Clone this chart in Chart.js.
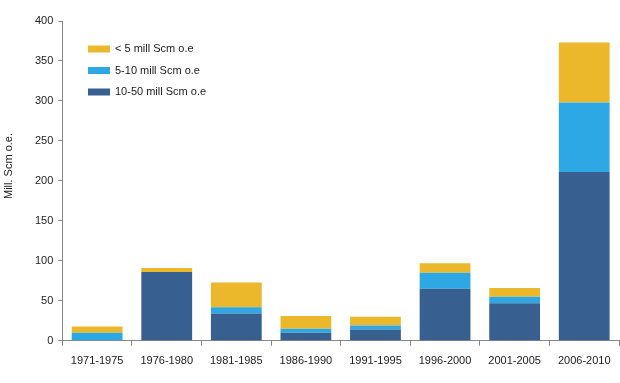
<!DOCTYPE html>
<html>
<head>
<meta charset="utf-8">
<script src="https://cdn.jsdelivr.net/npm/chart.js@4/dist/chart.umd.min.js"></script>
<style>
  html, body { margin: 0; padding: 0; background: #fff; }
  #wrap { width: 620px; height: 383px; }
</style>
</head>
<body>
<div id="wrap"><canvas id="myChart" width="620" height="383"></canvas></div>
<script>
// periods on the x axis
var periods = ['1971-1975', '1976-1980', '1981-1985', '1986-1990', '1991-1995', '1996-2000', '2001-2005', '2006-2010'];

// mill. Scm o.e. per field size class
var large = [0, 86, 34, 10, 14, 65, 47, 211];   // 10-50 mill Scm o.e
var medium = [10, 0, 8, 5, 5, 20, 8, 87];       // 5-10 mill Scm o.e
var small = [8, 5, 31, 16, 11, 12, 11, 75];     // < 5 mill Scm o.e

var seriesNames = ['10-50 mill Scm o.e', '5-10 mill Scm o.e', '< 5 mill Scm o.e'];
var yTicks = [0, 50, 100, 150, 200, 250, 300, 350, 400];
var yTitle = 'Mill. Scm o.e.';

var colors = ['rgb(55, 96, 145)', 'rgb(46, 168, 228)', 'rgb(235, 184, 44)'];
var font = '"Liberation Sans", Arial, sans-serif';

// legend inside the plot, top-left, stacked vertically (top series first),
// plus the y title which sits a bit above the axis middle in the original
var extras = {
  id: 'extras',
  afterDraw: function (chart) {
    var ctx = chart.ctx;
    var sets = chart.data.datasets.slice().reverse();
    ctx.save();
    ctx.font = '11px ' + font;
    ctx.textBaseline = 'middle';
    sets.forEach(function (ds, i) {
      var y = 49 + i * 21.5;
      ctx.fillStyle = ds.backgroundColor;
      ctx.fillRect(88, y - 3.5, 22, 7);
      ctx.fillStyle = '#222';
      ctx.fillText(ds.label, 115, y);
    });
    ctx.translate(9, 166);
    ctx.rotate(-Math.PI / 2);
    ctx.textAlign = 'center';
    ctx.fillText(yTitle, 0, 0);
    ctx.restore();
  }
};

var ctx = document.getElementById('myChart').getContext('2d');
var chart = new Chart(ctx, {
  type: 'bar',
  data: {
    labels: periods,
    datasets: [
      { label: seriesNames[0], data: large, backgroundColor: colors[0] },
      { label: seriesNames[1], data: medium, backgroundColor: colors[1] },
      { label: seriesNames[2], data: small, backgroundColor: colors[2] }
    ]
  },
  options: {
    responsive: false,
    animation: false,
    layout: { padding: { top: 21, right: 1, left: 30, bottom: 6 } },
    datasets: {
      bar: { categoryPercentage: 1, barPercentage: 0.73, borderWidth: 0 }
    },
    plugins: {
      legend: { display: false },
      tooltip: { enabled: false }
    },
    scales: {
      x: {
        stacked: true,
        offset: true,
        grid: {
          display: true,
          offset: true,
          drawOnChartArea: false,
          drawTicks: true,
          tickLength: 5,
          color: '#888'
        },
        border: { color: '#888', width: 1 },
        ticks: {
          color: '#222',
          font: { family: font, size: 11 },
          maxRotation: 0,
          padding: 9
        }
      },
      y: {
        stacked: true,
        min: 0,
        max: 400,
        afterBuildTicks: function (axis) {
          axis.ticks = yTicks.map(function (v) { return { value: v }; });
        },
        grid: {
          display: true,
          drawOnChartArea: false,
          drawTicks: true,
          tickLength: 4,
          color: '#888'
        },
        border: { color: '#888', width: 1 },
        ticks: {
          color: '#222',
          font: { family: font, size: 11 },
          padding: 5
        }
      }
    }
  },
  plugins: [extras]
});
</script>
</body>
</html>
